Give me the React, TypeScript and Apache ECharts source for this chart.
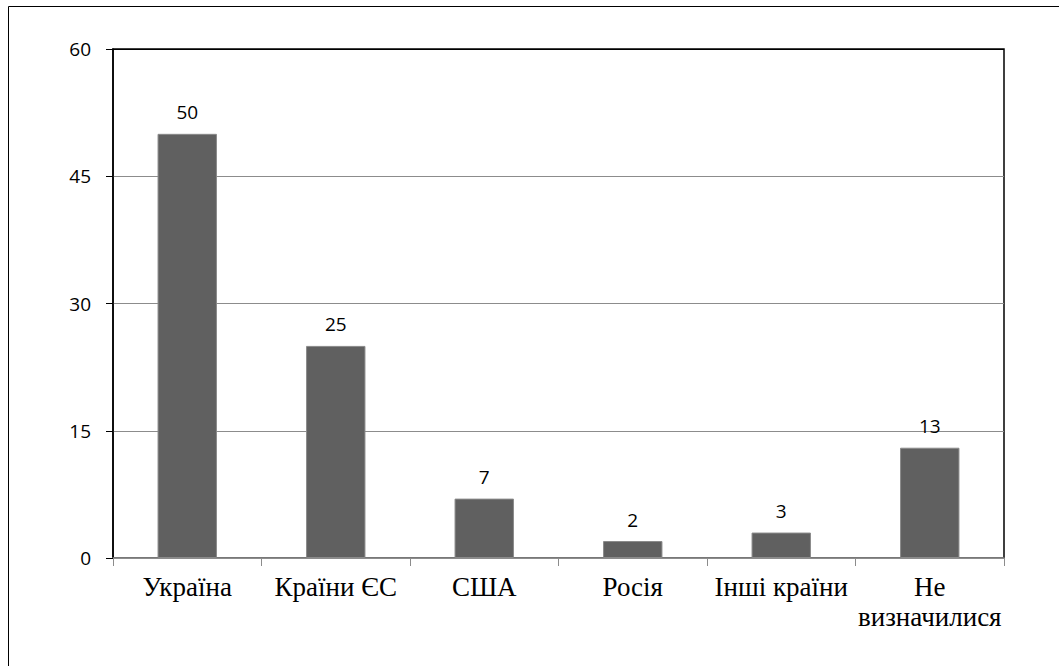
import React, { useEffect, useRef } from "react";
import * as echarts from "echarts";

const categories = ["Україна", "Країни ЄС", "США", "Росія", "Інші країни", "Не визначилися"];
const values = [50, 25, 7, 2, 3, 13];
const yTicks = { min: 0, max: 60, interval: 15 };

export default function App() {
  const ref = useRef<HTMLDivElement>(null);
  useEffect(() => {
    if (!ref.current) return;
    const chart = echarts.init(ref.current, undefined, { renderer: "svg" });
    chart.setOption({
      animation: false,
      backgroundColor: "#fff",
      graphic: [
        {
          type: "rect",
          shape: { x: 8.5, y: 6.5, width: 1060, height: 670 },
          style: { fill: "none", stroke: "#000", lineWidth: 1 },
          silent: true,
          z: -1,
        },
      ],
      grid: {
        left: 113,
        right: 55,
        top: 49,
        bottom: 108,
        show: true,
        borderColor: "#000",
        borderWidth: 1.5,
      },
      xAxis: {
        type: "category",
        data: categories,
        axisLine: { lineStyle: { color: "#8c8c8c", width: 1.5 } },
        axisTick: { show: true, length: 8, lineStyle: { color: "#8c8c8c", width: 1 } },
        axisLabel: {
          color: "#000",
          fontFamily: "'Liberation Serif', serif",
          fontSize: 27,
          lineHeight: 30,
          margin: 14,
          interval: 0,
          formatter: (v: string) => (v.length > 12 ? v.replace(" ", "\n") : v),
        },
      },
      yAxis: {
        type: "value",
        min: yTicks.min,
        max: yTicks.max,
        interval: yTicks.interval,
        axisLine: { show: true, lineStyle: { color: "#000", width: 1.5 } },
        axisTick: { show: true, length: 7, lineStyle: { color: "#000" } },
        axisLabel: {
          color: "#000",
          fontFamily: "'Open Sans', sans-serif",
          fontSize: 19,
          margin: 22,
        },
        splitLine: {
          show: true,
          lineStyle: { color: ["#8c8c8c", "#8c8c8c", "#8c8c8c", "#8c8c8c", "#000"], width: 1 },
        },
      },
      series: [
        {
          type: "bar",
          data: values,
          barWidth: "40%",
          itemStyle: { color: "#606060", borderColor: "#8a8a8a", borderWidth: 1 },
          label: {
            show: true,
            position: "top",
            distance: 12,
            color: "#000",
            fontFamily: "'Open Sans', sans-serif",
            fontSize: 19,
          },
        },
      ],
    });
    return () => chart.dispose();
  }, []);
  return (
    <div
      ref={ref}
      style={{ position: "absolute", left: 0, top: 0, width: 1059, height: 666 }}
    />
  );
}
